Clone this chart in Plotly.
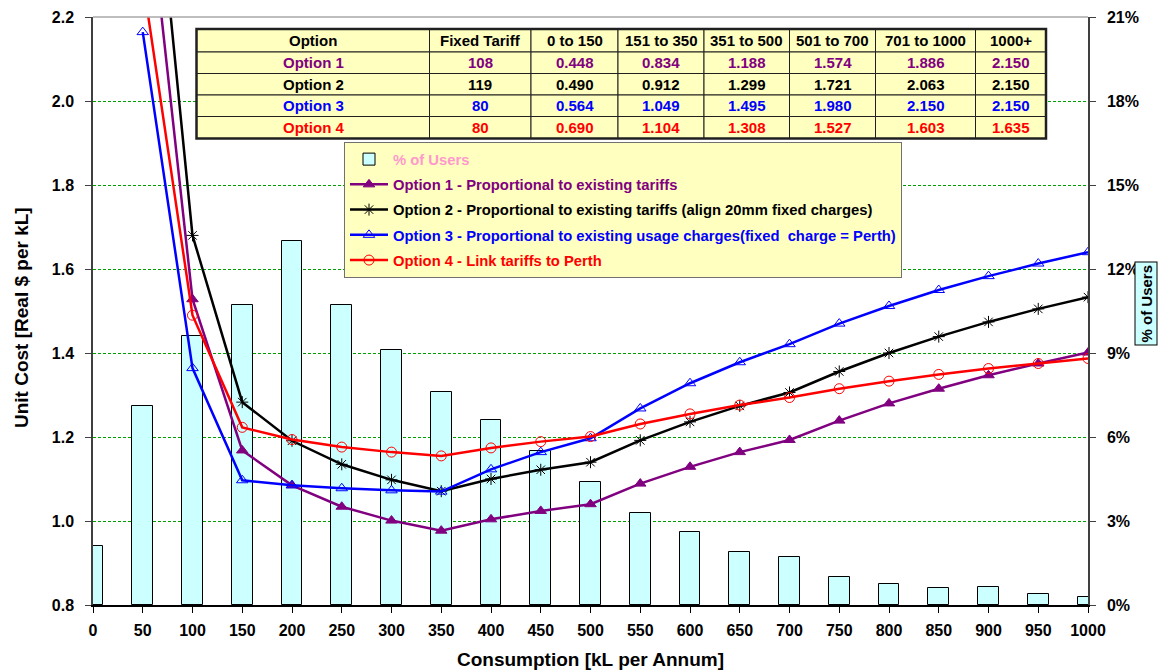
import plotly.graph_objects as go

# Consumption bands (kL per annum)
consumption = [0, 50, 100, 150, 200, 250, 300, 350, 400, 450, 500,
               550, 600, 650, 700, 750, 800, 850, 900, 950, 1000]
line_consumption = consumption[1:]

# Share of users in each consumption band (%)
pct_users = [2.1, 7.1, 9.6, 10.7, 13.0, 10.7, 9.1, 7.6, 6.6, 5.5, 4.4,
             3.3, 2.6, 1.9, 1.7, 1.0, 0.75, 0.6, 0.65, 0.4, 0.3]

# Unit cost ($ per kL) for each tariff option, from 50 kL upward
option1 = [2.608, 1.528, 1.168, 1.085, 1.034, 1.001, 0.977, 1.004, 1.024, 1.040,
           1.089, 1.129, 1.164, 1.193, 1.239, 1.280, 1.315, 1.347, 1.375, 1.401]
option2 = [2.870, 1.680, 1.283, 1.191, 1.135, 1.098, 1.071, 1.100, 1.122, 1.140,
           1.192, 1.236, 1.274, 1.306, 1.356, 1.400, 1.439, 1.474, 1.505, 1.533]
option3 = [2.164, 1.364, 1.097, 1.085, 1.078, 1.073, 1.070, 1.123, 1.164, 1.197,
           1.268, 1.328, 1.378, 1.421, 1.470, 1.512, 1.550, 1.583, 1.613, 1.640]
option4 = [2.290, 1.490, 1.223, 1.194, 1.176, 1.164, 1.155, 1.174, 1.189, 1.201,
           1.231, 1.255, 1.276, 1.294, 1.315, 1.333, 1.349, 1.363, 1.375, 1.387]

# Tariff table
table_header = ["Option", "Fixed Tariff", "0 to 150", "151 to 350", "351 to 500",
                "501 to 700", "701 to 1000", "1000+"]
table_options = ["Option 1", "Option 2", "Option 3", "Option 4"]
fixed_tariff = ["108", "119", "80", "80"]
band_0_150 = ["0.448", "0.490", "0.564", "0.690"]
band_151_350 = ["0.834", "0.912", "1.049", "1.104"]
band_351_500 = ["1.188", "1.299", "1.495", "1.308"]
band_501_700 = ["1.574", "1.721", "1.980", "1.527"]
band_701_1000 = ["1.886", "2.063", "2.150", "1.603"]
band_1000_plus = ["2.150", "2.150", "2.150", "1.635"]
table_columns = [table_options, fixed_tariff, band_0_150, band_151_350, band_351_500,
                 band_501_700, band_701_1000, band_1000_plus]

option_names = [
    "Option 1 - Proportional to existing tariffs",
    "Option 2 - Proportional to existing tariffs (align 20mm fixed charges)",
    "Option 3 - Proportional to existing usage charges(fixed  charge = Perth)",
    "Option 4 - Link tariffs to Perth",
]
option_colors = ["#800080", "#000000", "#0000ff", "#ff0000"]
option_symbols = ["triangle-up", "asterisk-open", "triangle-up-open", "circle-open"]
option_values = [option1, option2, option3, option4]

FONT = "Arial, Liberation Sans, sans-serif"

# Figure / plot-area geometry in pixels
W, H = 1173, 671
ML, MR, MT, MB = 93, 85, 17, 66
PW, PH = W - ML - MR, H - MT - MB


def px(x):
    return (x - ML) / PW


def py(y):
    return (H - MB - y) / PH


fig = go.Figure()

# Bars on the primary (percentage) axis so that lines draw above them
fig.add_trace(go.Bar(
    x=consumption, y=pct_users,
    name='<span style="color:#ff99cc">% of Users</span>',
    width=21,
    marker=dict(color="#ccffff", line=dict(color="#000000", width=1)),
    yaxis="y", legendgroup="users",
))

for name, color, symbol, vals in zip(option_names, option_colors, option_symbols, option_values):
    fig.add_trace(go.Scatter(
        x=line_consumption, y=vals,
        mode="lines+markers",
        name=f'<span style="color:{color}">{name}</span>',
        line=dict(color=color, width=2.5),
        marker=dict(symbol=symbol, size=10, color=color,
                    line=dict(color=color, width=1)),
        yaxis="y2", legendgroup=name,
    ))

# Tariff table drawn as cells (shapes) with centred text (annotations)
col_edges = [196.5, 429.5, 531, 618, 704, 789.5, 875.5, 975.5, 1046]
row_edges = [29, 52, 73.5, 95, 116.5, 138.5]
shapes = [
    # top frame of the plot area
    dict(type="line", xref="paper", yref="paper", x0=0, x1=1, y0=1, y1=1,
         line=dict(color="#a8a8a8", width=1.5)),
]
annotations = []
n_rows = len(row_edges) - 1
for c in range(len(col_edges) - 1):
    for r in range(n_rows):
        x0, x1 = px(col_edges[c]), px(col_edges[c + 1])
        y0, y1 = py(row_edges[r + 1]), py(row_edges[r])
        shapes.append(dict(type="rect", xref="paper", yref="paper",
                           x0=x0, x1=x1, y0=y0, y1=y1, layer="above",
                           fillcolor="#ffffc0",
                           line=dict(color="#202020", width=1)))
        if r == 0:
            text, color = table_header[c], "#000000"
        else:
            text, color = table_columns[c][r - 1], option_colors[r - 1]
        annotations.append(dict(text=text, xref="paper", yref="paper",
                                x=(x0 + x1) / 2, y=(y0 + y1) / 2,
                                xanchor="center", yanchor="middle", showarrow=False,
                                font=dict(family=FONT, size=15, color=color,
                                          weight="bold")))
shapes.append(dict(type="rect", xref="paper", yref="paper", layer="above",
                   x0=px(col_edges[0]), x1=px(col_edges[-1]),
                   y0=py(row_edges[-1]), y1=py(row_edges[0]),
                   line=dict(color="#202020", width=2.5)))

# Axis titles
annotations.append(dict(text="Consumption [kL per Annum]", xref="paper", yref="paper",
                        x=px(590), y=py(659), xanchor="center", yanchor="middle",
                        showarrow=False,
                        font=dict(family=FONT, size=19, color="#000000", weight="bold")))
annotations.append(dict(text="Unit Cost [Real $ per kL]", xref="paper", yref="paper",
                        x=px(21), y=py(318), xanchor="center", yanchor="middle",
                        textangle=-90, showarrow=False,
                        font=dict(family=FONT, size=19, color="#000000", weight="bold")))
annotations.append(dict(text="% of Users", xref="paper", yref="paper",
                        x=px(1157), y=py(304), textangle=-90, showarrow=False,
                        font=dict(family=FONT, size=15, color="#000000", weight="bold"),
                        bgcolor="#ccffff", bordercolor="#000000", borderwidth=1,
                        borderpad=2))

fig.update_layout(
    width=W, height=H,
    margin=dict(l=ML, r=MR, t=MT, b=MB, pad=0, autoexpand=False),
    paper_bgcolor="#ffffff", plot_bgcolor="#ffffff",
    font=dict(family=FONT, size=16, color="#000000", weight="bold"),
    bargap=0,
    showlegend=True,
    legend=dict(
        x=px(344), y=py(142), xanchor="left", yanchor="top",
        bgcolor="#ffffc0", bordercolor="#707070", borderwidth=1,
        font=dict(family=FONT, size=14.8, weight="bold"),
        tracegroupgap=3, itemwidth=38,
    ),
    xaxis=dict(
        range=[0, 1000], tickmode="linear", tick0=0, dtick=50,
        showgrid=False, zeroline=False, automargin=False,
        showline=True, linecolor="#000000", linewidth=1.5,
        ticks="outside", ticklen=6, tickcolor="#000000",
        tickfont=dict(size=16, weight="bold"),
        ticklabelstandoff=4,
    ),
    yaxis=dict(
        side="right", range=[0, 21], tickmode="linear", tick0=0, dtick=3,
        ticksuffix="%", automargin=False,
        showgrid=True, gridcolor="#00a000", griddash="3px,2px", gridwidth=1.2,
        zeroline=False,
        showline=True, linecolor="#404040", linewidth=1.5,
        ticks="outside", ticklen=6, tickcolor="#404040",
        tickfont=dict(size=16, weight="bold"),
        ticklabelstandoff=8,
    ),
    yaxis2=dict(
        overlaying="y", side="left", range=[0.8, 2.2], automargin=False,
        tickmode="linear", tick0=0.8, dtick=0.2, tickformat=".1f",
        showgrid=False, zeroline=False,
        showline=True, linecolor="#404040", linewidth=1.5,
        ticks="outside", ticklen=6, tickcolor="#404040",
        tickfont=dict(size=16, weight="bold"),
        ticklabelstandoff=8,
    ),
    shapes=shapes,
    annotations=annotations,
)

fig.write_html("out.html")
